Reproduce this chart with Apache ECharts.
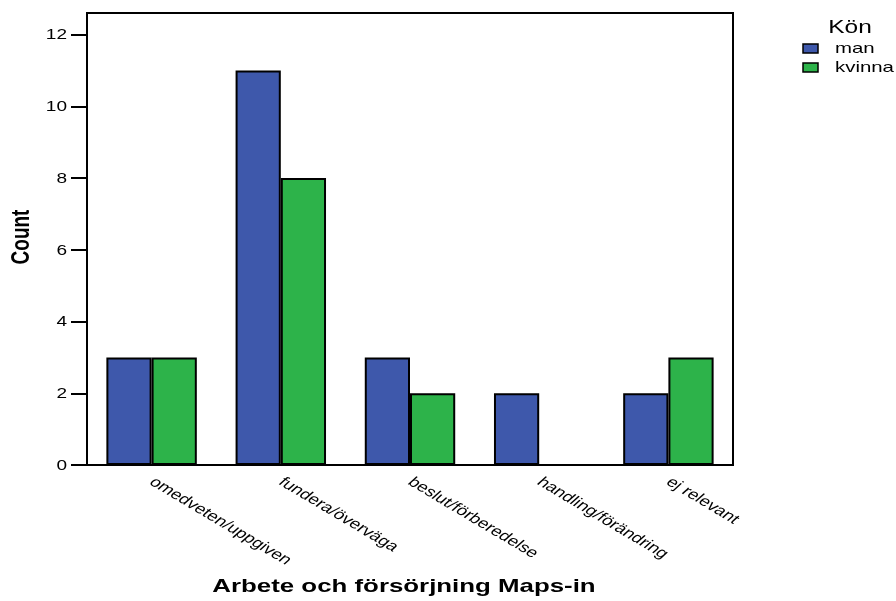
<!DOCTYPE html>
<html>
<head>
<meta charset="utf-8">
<script src="https://cdn.jsdelivr.net/npm/echarts@6/dist/echarts.min.js"></script>
<style>
  html, body { margin: 0; padding: 0; background: #fff; }
  #chart { width: 896px; height: 601px; }
</style>
</head>
<body>
<div id="chart"></div>
<script>
// Categories on the x axis (stage of change)
const categories = ['omedveten/uppgiven', 'fundera/överväga', 'beslut/förberedelse', 'handling/förändring', 'ej relevant'];
// Counts per gender
const manCounts = [3, 11, 3, 2, 2];
const kvinnaCounts = [3, 8, 2, 0, 3];
const seriesNames = ['man', 'kvinna'];
const seriesColors = ['#3e58ab', '#2db34a'];
const yTicks = [0, 2, 4, 6, 8, 10, 12];
const legendTitle = 'Kön';
const xTitle = 'Arbete och försörjning Maps-in';
const yTitle = 'Count';

const font = '"Liberation Sans", Arial, sans-serif';
// All text is set in a wide face: draw it horizontally stretched
const STRETCH = 1.36;

const chart = echarts.init(document.getElementById('chart'));

chart.setOption({
  animation: false,
  textStyle: { fontFamily: font },
  grid: {
    left: 87,
    right: 163,
    top: 13,
    bottom: 136,
    outerBoundsMode: 'none',
    containLabel: false,
    show: true,
    borderColor: '#000',
    borderWidth: 2,
    backgroundColor: 'transparent'
  },
  xAxis: {
    type: 'category',
    data: categories,
    axisLine: { lineStyle: { color: '#000', width: 2 } },
    axisTick: { alignWithLabel: true, length: 11, lineStyle: { color: '#000', width: 2 } },
    axisLabel: { show: false }
  },
  yAxis: {
    type: 'value',
    min: 0,
    max: 12.6,
    interval: 2,
    axisLine: { show: true, lineStyle: { color: '#000', width: 2 } },
    axisTick: { show: true, length: 16, customValues: yTicks, lineStyle: { color: '#000', width: 2 } },
    splitLine: { show: false },
    axisLabel: { show: false }
  },
  series: [
    {
      name: seriesNames[0],
      type: 'bar',
      data: manCounts,
      barGap: '0%',
      barCategoryGap: '30%',
      itemStyle: { color: seriesColors[0], borderColor: '#000', borderWidth: 2 }
    },
    {
      name: seriesNames[1],
      type: 'bar',
      data: kvinnaCounts,
      itemStyle: { color: seriesColors[1], borderColor: '#000', borderWidth: 2 }
    }
  ]
});

// A stretched text label anchored at (x, y)
function wideText(x, y, text, opts) {
  return {
    type: 'group',
    x: x,
    y: y,
    scaleX: STRETCH,
    silent: true,
    children: [{
      type: 'text',
      rotation: opts.rotation || 0,
      style: {
        text: text,
        fontFamily: font,
        fontSize: opts.size,
        fontWeight: opts.weight || 'normal',
        fill: '#000',
        align: opts.align || 'left',
        verticalAlign: opts.vAlign || 'middle',
        textAlign: opts.align || 'left',
        textVerticalAlign: opts.vAlign || 'middle'
      }
    }]
  };
}

const baseY = chart.convertToPixel({ yAxisIndex: 0 }, 0);
const graphics = [];

// Category labels, slanted down to the right from each tick
categories.forEach(function (c) {
  const x = chart.convertToPixel({ xAxisIndex: 0 }, c);
  graphics.push(wideText(x + 6, baseY + 10, c, {
    size: 14, align: 'left', vAlign: 'top', rotation: -39 * Math.PI / 180
  }));
});

// Value labels left of the y ticks
yTicks.forEach(function (v) {
  const y = chart.convertToPixel({ yAxisIndex: 0 }, v);
  graphics.push(wideText(67, y + 1, String(v), { size: 14, align: 'right' }));
});

// Axis titles
graphics.push(wideText(404, 587, xTitle, { size: 19, weight: 'bold', align: 'center' }));
graphics.push(wideText(22, 237, yTitle, { size: 19, weight: 'bold', align: 'center', rotation: Math.PI / 2 }));

// Legend
graphics.push(wideText(850, 28, legendTitle, { size: 18, align: 'center' }));
seriesNames.forEach(function (name, i) {
  const cy = 48.5 + i * 19;
  graphics.push({
    type: 'rect',
    silent: true,
    shape: { x: 803, y: cy - 4.5, width: 15, height: 9 },
    style: { fill: seriesColors[i], stroke: '#000', lineWidth: 1.5 }
  });
  graphics.push(wideText(835, cy, name, { size: 15, align: 'left' }));
});

chart.setOption({ graphic: graphics });
</script>
</body>
</html>
